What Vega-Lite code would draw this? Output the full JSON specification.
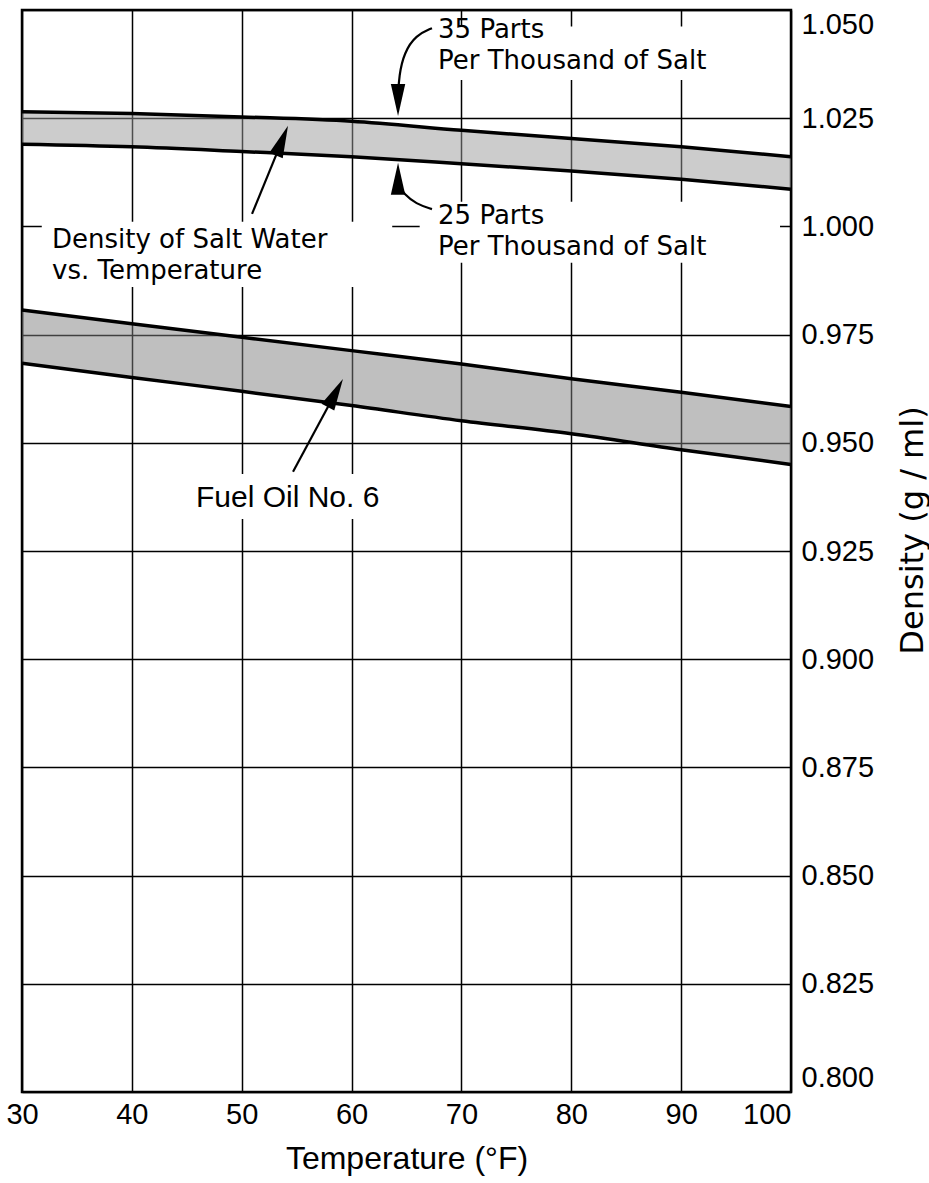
{
  "$schema": "https://vega.github.io/schema/vega-lite/v6.json",
  "width": 769,
  "height": 1082,
  "autosize": "none",
  "padding": {"left": 22, "top": 10, "right": 138, "bottom": 91},
  "background": "white",
  "config": {
    "font": "Liberation Sans",
    "view": {"stroke": "black", "strokeWidth": 2.5},
    "axis": {
      "grid": true, "gridColor": "black", "gridWidth": 1.5, "gridOpacity": 1,
      "domain": false, "ticks": false,
      "labelFont": "Liberation Sans", "labelFontSize": 29, "labelColor": "black",
      "titleFont": "Liberation Sans", "titleFontSize": 32, "titleFontWeight": "normal", "titleColor": "black"
    }
  },
  "datasets": {
    "bands": [
      {"material": "salt", "temp": 30, "upper": 1.0265, "lower": 1.0190},
      {"material": "salt", "temp": 40, "upper": 1.0261, "lower": 1.0184},
      {"material": "salt", "temp": 50, "upper": 1.0253, "lower": 1.0173},
      {"material": "salt", "temp": 60, "upper": 1.0243, "lower": 1.0161},
      {"material": "salt", "temp": 70, "upper": 1.0222, "lower": 1.0145},
      {"material": "salt", "temp": 80, "upper": 1.0203, "lower": 1.0128},
      {"material": "salt", "temp": 90, "upper": 1.0184, "lower": 1.0109},
      {"material": "salt", "temp": 100, "upper": 1.0161, "lower": 1.0086},
      {"material": "fuel", "temp": 30, "upper": 0.9807, "lower": 0.9684},
      {"material": "fuel", "temp": 40, "upper": 0.9775, "lower": 0.9651},
      {"material": "fuel", "temp": 50, "upper": 0.9744, "lower": 0.9619},
      {"material": "fuel", "temp": 60, "upper": 0.9713, "lower": 0.9586},
      {"material": "fuel", "temp": 70, "upper": 0.9682, "lower": 0.9551},
      {"material": "fuel", "temp": 80, "upper": 0.9648, "lower": 0.9521},
      {"material": "fuel", "temp": 90, "upper": 0.9617, "lower": 0.9484},
      {"material": "fuel", "temp": 100, "upper": 0.9584, "lower": 0.9450}
    ],
    "boxes": [
      {"t1": 67.1, "t2": 98.6, "d1": 1.0462, "d2": 1.0338},
      {"t1": 66.2, "t2": 99.0, "d1": 1.0057, "d2": 0.9916},
      {"t1": 31.8, "t2": 63.7, "d1": 1.0011, "d2": 0.9860},
      {"t1": 45.8, "t2": 64.4, "d1": 0.9428, "d2": 0.9324}
    ],
    "labels": [
      {"text": "35 Parts", "temp": 67.87, "density": 1.04538},
      {"text": "Per Thousand of Salt", "temp": 67.87, "density": 1.03822},
      {"text": "25 Parts", "temp": 67.87, "density": 1.00241},
      {"text": "Per Thousand of Salt", "temp": 67.87, "density": 0.99525},
      {"text": "Density of Salt Water", "temp": 32.73, "density": 0.99687},
      {"text": "vs. Temperature", "temp": 32.73, "density": 0.98971}
    ],
    "oilLabel": [
      {"text": "Fuel Oil No. 6", "temp": 45.84, "density": 0.9373}
    ],
    "arrows": [
      {"arrow": "a35", "order": 1, "temp": 67.32, "density": 1.0458},
      {"arrow": "a35", "order": 2, "temp": 65.86, "density": 1.0442},
      {"arrow": "a35", "order": 3, "temp": 64.77, "density": 1.0401},
      {"arrow": "a35", "order": 4, "temp": 64.32, "density": 1.0348},
      {"arrow": "a35", "order": 5, "temp": 64.23, "density": 1.0301},
      {"arrow": "a25", "order": 1, "temp": 67.32, "density": 1.0040},
      {"arrow": "a25", "order": 2, "temp": 65.86, "density": 1.0052},
      {"arrow": "a25", "order": 3, "temp": 64.77, "density": 1.0075},
      {"arrow": "a25", "order": 4, "temp": 64.32, "density": 1.0093},
      {"arrow": "a25", "order": 5, "temp": 64.23, "density": 1.0105},
      {"arrow": "sw", "order": 1, "temp": 50.94, "density": 1.0029},
      {"arrow": "sw", "order": 2, "temp": 53.67, "density": 1.0198},
      {"arrow": "fo", "order": 1, "temp": 54.67, "density": 0.9433},
      {"arrow": "fo", "order": 2, "temp": 58.53, "density": 0.9615}
    ],
    "heads": [
      {"arrow": "a35", "temp": 64.23, "density": 1.0292, "angle": 180},
      {"arrow": "a25", "temp": 64.23, "density": 1.0110, "angle": 0},
      {"arrow": "sw", "temp": 53.67, "density": 1.0198, "angle": 22},
      {"arrow": "fo", "temp": 58.53, "density": 0.9615, "angle": 28}
    ]
  },
  "layer": [
    {
      "data": {"name": "bands"},
      "mark": {"type": "area", "interpolate": "monotone", "opacity": 0.5},
      "encoding": {
        "x": {
          "field": "temp", "type": "quantitative",
          "scale": {"domain": [30, 100], "nice": false, "zero": false},
          "axis": {
            "orient": "bottom", "values": [30, 40, 50, 60, 70, 80, 90, 100],
            "labelPadding": 8,
            "labelAlign": {"condition": {"test": "datum.value == 100", "value": "right"}, "value": "center"},
            "title": "Temperature (°F)", "titlePadding": 14
          }
        },
        "y": {
          "field": "upper", "type": "quantitative",
          "scale": {"domain": [0.8, 1.05], "nice": false, "zero": false},
          "axis": {
            "orient": "right",
            "values": [0.8, 0.825, 0.85, 0.875, 0.9, 0.925, 0.95, 0.975, 1.0, 1.025, 1.05],
            "format": ".3f", "labelFlush": true, "labelPadding": 10,
            "title": "Density (g / ml)", "titleAngle": 270,
            "titleFont": "DejaVu Sans", "titleFontSize": 32,
            "titleX": 121, "titleY": 520, "titleAlign": "center", "titleBaseline": "middle"
          }
        },
        "y2": {"field": "lower"},
        "detail": {"field": "material"},
        "color": {
          "field": "material", "type": "nominal",
          "scale": {"domain": ["salt", "fuel"], "range": ["#9a9a9a", "#808080"]},
          "legend": null
        }
      }
    },
    {
      "data": {"name": "bands"},
      "mark": {"type": "line", "interpolate": "monotone", "color": "black", "strokeWidth": 3.5},
      "encoding": {
        "x": {"field": "temp", "type": "quantitative"},
        "y": {"field": "upper", "type": "quantitative"},
        "detail": {"field": "material"}
      }
    },
    {
      "data": {"name": "bands"},
      "mark": {"type": "line", "interpolate": "monotone", "color": "black", "strokeWidth": 3.5},
      "encoding": {
        "x": {"field": "temp", "type": "quantitative"},
        "y": {"field": "lower", "type": "quantitative"},
        "detail": {"field": "material"}
      }
    },
    {
      "data": {"name": "boxes"},
      "mark": {"type": "rect", "fill": "white"},
      "encoding": {
        "x": {"field": "t1", "type": "quantitative"},
        "x2": {"field": "t2"},
        "y": {"field": "d1", "type": "quantitative"},
        "y2": {"field": "d2"}
      }
    },
    {
      "data": {"name": "labels"},
      "mark": {"type": "text", "align": "left", "baseline": "middle", "fontSize": 26, "color": "black", "font": "DejaVu Sans"},
      "encoding": {
        "x": {"field": "temp", "type": "quantitative"},
        "y": {"field": "density", "type": "quantitative"},
        "text": {"field": "text"}
      }
    },
    {
      "data": {"name": "oilLabel"},
      "mark": {"type": "text", "align": "left", "baseline": "middle", "fontSize": 30, "color": "black", "font": "Liberation Sans"},
      "encoding": {
        "x": {"field": "temp", "type": "quantitative"},
        "y": {"field": "density", "type": "quantitative"},
        "text": {"field": "text"}
      }
    },
    {
      "data": {"name": "arrows"},
      "mark": {"type": "line", "interpolate": "basis", "color": "black", "strokeWidth": 2.2},
      "encoding": {
        "x": {"field": "temp", "type": "quantitative"},
        "y": {"field": "density", "type": "quantitative"},
        "detail": {"field": "arrow"},
        "order": {"field": "order"}
      }
    },
    {
      "data": {"name": "heads"},
      "mark": {"type": "point", "shape": "M0,-1L0.45,1L-0.45,1Z", "filled": true, "color": "black", "opacity": 1, "size": 1024},
      "encoding": {
        "x": {"field": "temp", "type": "quantitative"},
        "y": {"field": "density", "type": "quantitative"},
        "angle": {"field": "angle", "type": "quantitative", "scale": null}
      }
    }
  ]
}
